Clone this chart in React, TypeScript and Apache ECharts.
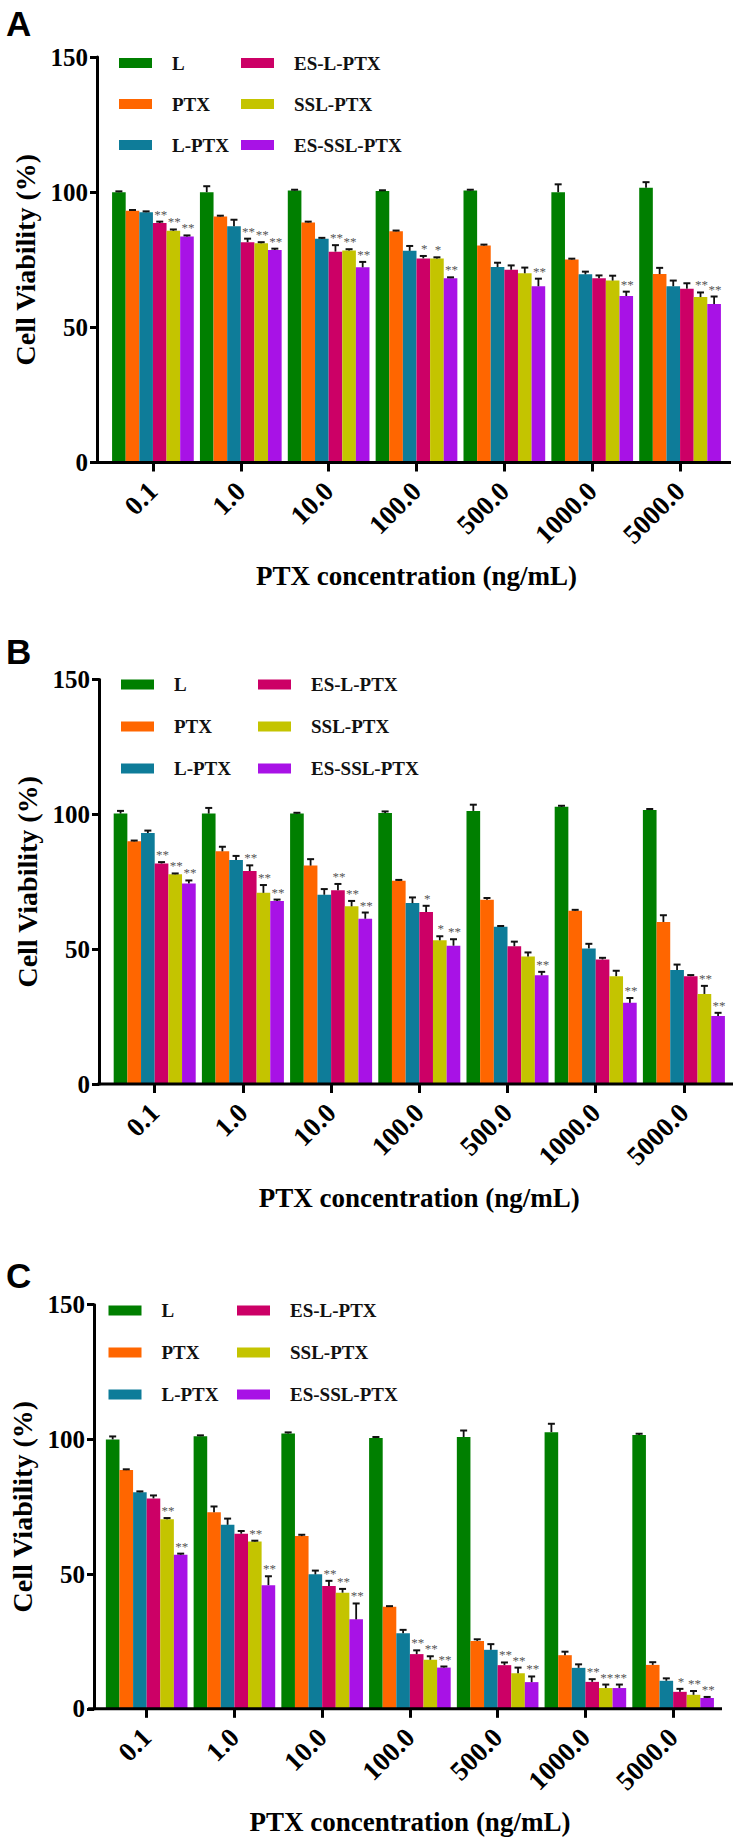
import React, { useEffect, useRef } from "react";
import * as echarts from "echarts";

// ---------- DATA ----------
const categories = ["0.1", "1.0", "10.0", "100.0", "500.0", "1000.0", "5000.0"];
const groups = ["L", "PTX", "L-PTX", "ES-L-PTX", "SSL-PTX", "ES-SSL-PTX"];
const yTicks = [0, 50, 100, 150];

// Panel A
const A_L = [100.0, 100.0, 100.6, 100.4, 100.6, 100.0, 101.6];
const A_L_err = [0.3, 2.2, 0.3, 0.3, 0.3, 2.9, 2.1];
const A_PTX = [93.1, 91.0, 88.8, 85.5, 80.3, 75.1, 69.7];
const A_PTX_err = [0.3, 0.3, 0.3, 0.3, 0.3, 0.3, 2.3];
const A_LPTX = [92.6, 87.4, 82.8, 78.3, 72.3, 69.6, 65.2];
const A_LPTX_err = [0.3, 2.4, 0.3, 1.8, 1.6, 1.0, 2.1];
const A_ESL = [88.6, 81.5, 78.0, 75.5, 71.3, 68.2, 64.3];
const A_ESL_err = [0.5, 1.3, 2.4, 0.9, 1.6, 1.0, 2.0];
const A_SSL = [85.7, 81.1, 78.4, 75.5, 70.0, 67.3, 61.2];
const A_SSL_err = [0.5, 0.4, 0.5, 0.4, 2.1, 1.8, 1.7];
const A_ESSSL = [83.6, 78.6, 72.2, 68.2, 65.2, 61.6, 58.6];
const A_ESSSL_err = [0.4, 0.5, 2.0, 0.3, 2.8, 1.6, 2.8];
const A_ESL_sig = ["**", "**", "**", "*", "", "", ""];
const A_SSL_sig = ["**", "**", "**", "*", "", "", "**"];
const A_ESSSL_sig = ["**", "**", "**", "**", "**", "**", "**"];

// Panel B
const B_L = [100.3, 100.3, 100.3, 100.5, 101.3, 102.8, 101.6];
const B_L_err = [1.0, 2.1, 0.3, 0.6, 2.3, 0.4, 0.4];
const B_PTX = [90.0, 86.3, 81.0, 75.4, 68.3, 64.3, 60.1];
const B_PTX_err = [0.3, 1.7, 2.4, 0.3, 0.7, 0.3, 2.5];
const B_LPTX = [93.1, 83.1, 70.2, 67.1, 58.3, 50.3, 42.3];
const B_LPTX_err = [0.9, 1.5, 2.1, 2.1, 0.3, 1.7, 2.0];
const B_ESL = [81.8, 79.0, 71.9, 63.8, 51.1, 46.2, 40.0];
const B_ESL_err = [0.5, 2.1, 2.3, 2.3, 1.7, 0.6, 0.4];
const B_SSL = [77.8, 70.9, 65.9, 53.3, 47.3, 40.0, 33.4];
const B_SSL_err = [0.3, 2.9, 2.0, 1.5, 1.5, 2.0, 3.0];
const B_ESSSL = [74.4, 67.9, 61.3, 51.3, 40.3, 30.1, 25.2];
const B_ESSSL_err = [1.1, 0.5, 2.3, 2.4, 1.3, 1.8, 1.2];
const B_ESL_sig = ["**", "**", "**", "*", "", "", ""];
const B_SSL_sig = ["**", "**", "**", "*", "", "", "**"];
const B_ESSSL_sig = ["**", "**", "**", "**", "**", "**", "**"];

// Panel C
const C_L = [100.0, 101.2, 102.2, 100.5, 100.9, 102.7, 101.6];
const C_L_err = [1.1, 0.3, 0.4, 0.4, 2.4, 3.1, 0.5];
const C_PTX = [88.6, 73.0, 64.1, 37.9, 25.2, 19.9, 16.3];
const C_PTX_err = [0.3, 2.1, 0.5, 0.2, 0.6, 1.3, 1.0];
const C_LPTX = [80.4, 68.3, 49.9, 28.0, 21.9, 15.2, 10.4];
const C_LPTX_err = [0.3, 2.3, 1.4, 1.3, 2.1, 1.3, 0.9];
const C_ESL = [78.1, 65.0, 45.6, 20.3, 16.2, 10.0, 6.3];
const C_ESL_err = [1.1, 1.0, 1.9, 1.4, 1.0, 1.0, 1.1];
const C_SSL = [70.4, 62.1, 43.1, 18.2, 13.2, 7.7, 5.2];
const C_SSL_err = [0.4, 0.3, 1.4, 1.3, 2.1, 1.3, 1.4];
const C_ESSSL = [57.2, 45.9, 33.2, 15.3, 9.9, 7.7, 4.0];
const C_ESSSL_err = [0.4, 3.3, 5.9, 0.4, 2.1, 1.3, 0.4];
const C_ESL_sig = ["", "", "**", "**", "**", "**", "*"];
const C_SSL_sig = ["**", "**", "**", "**", "**", "**", "**"];
const C_ESSSL_sig = ["**", "**", "**", "**", "**", "**", "**"];

const noSig = ["", "", "", "", "", "", ""];

const panels = [
  {
    label: "A",
    values: [A_L, A_PTX, A_LPTX, A_ESL, A_SSL, A_ESSSL],
    errs: [A_L_err, A_PTX_err, A_LPTX_err, A_ESL_err, A_SSL_err, A_ESSSL_err],
    sigs: [noSig, noSig, noSig, A_ESL_sig, A_SSL_sig, A_ESSSL_sig],
  },
  {
    label: "B",
    values: [B_L, B_PTX, B_LPTX, B_ESL, B_SSL, B_ESSSL],
    errs: [B_L_err, B_PTX_err, B_LPTX_err, B_ESL_err, B_SSL_err, B_ESSSL_err],
    sigs: [noSig, noSig, noSig, B_ESL_sig, B_SSL_sig, B_ESSSL_sig],
  },
  {
    label: "C",
    values: [C_L, C_PTX, C_LPTX, C_ESL, C_SSL, C_ESSSL],
    errs: [C_L_err, C_PTX_err, C_LPTX_err, C_ESL_err, C_SSL_err, C_ESSSL_err],
    sigs: [noSig, noSig, noSig, C_ESL_sig, C_SSL_sig, C_ESSSL_sig],
  },
];

// ---------- STYLE / LAYOUT ----------
const W = 735;
const H = 1844;
const colors = ["#007f00", "#ff6600", "#0e7c99", "#cc0066", "#c4c400", "#a812e6"];
const SERIF = "Liberation Serif";
const SANS = "Liberation Sans";
const CAT_GAP = 0.07;

const layouts = [
  { top: 57, y0: 462.5, left: 109, right: 724, axisX: 97, axisEnd: 731, legendTop: 53.6, legendCols: [119, 241], legendGap: 22, labelY: 6 },
  { top: 679.6, y0: 1084, left: 110.6, right: 728, axisX: 99, axisEnd: 733, legendTop: 675, legendCols: [121, 258], legendGap: 23, labelY: 634 },
  { top: 1304.7, y0: 1708.8, left: 98.4, right: 717, axisX: 89.6, axisEnd: 722, legendTop: 1301, legendCols: [108.5, 237], legendGap: 23, labelY: 1258 },
];

function buildOption() {
  const grid: any[] = [];
  const xAxis: any[] = [];
  const yAxis: any[] = [];
  const series: any[] = [];
  const legend: any[] = [];
  const graphic: any[] = [];

  panels.forEach((p, pi) => {
    const L = layouts[pi];
    grid.push({ left: L.left, width: L.right - L.left, top: L.top, height: L.y0 - L.top, containLabel: false });
    xAxis.push({
      type: "category",
      gridIndex: pi,
      data: categories,
      axisLine: { show: false },
      axisTick: { show: true, alignWithLabel: true, length: 9, lineStyle: { color: "#000", width: 3 } },
      axisLabel: { rotate: 45, margin: 24, fontFamily: SERIF, fontWeight: "bold", fontSize: 27, color: "#000" },
      name: "PTX concentration (ng/mL)",
      nameLocation: "middle",
      nameGap: 100,
      nameTextStyle: { fontFamily: SERIF, fontWeight: "bold", fontSize: 27, color: "#000" },
      splitLine: { show: false },
    });
    yAxis.push({
      type: "value",
      gridIndex: pi,
      min: 0,
      max: 150,
      interval: 50,
      offset: L.left - L.axisX,
      axisLine: { show: true, lineStyle: { color: "#000", width: 3 } },
      axisTick: { show: true, length: 7, lineStyle: { color: "#000", width: 3 } },
      axisLabel: { margin: 9, fontFamily: SERIF, fontWeight: "bold", fontSize: 25, color: "#000", customValues: yTicks },
      splitLine: { show: false },
      name: "Cell Viability (%)",
      nameLocation: "middle",
      nameGap: 58,
      nameTextStyle: { fontFamily: SERIF, fontWeight: "bold", fontSize: 28, color: "#000" },
    });

    groups.forEach((g, gi) => {
      series.push({
        type: "bar",
        name: g,
        xAxisIndex: pi,
        yAxisIndex: pi,
        data: p.values[gi],
        barGap: "0%",
        barCategoryGap: CAT_GAP * 100 + "%",
        itemStyle: { color: colors[gi] },
        z: 2,
      });
    });

    // error bars + significance marks
    const errData: any[] = [];
    const sigLookup: string[] = [];
    groups.forEach((g, gi) => {
      categories.forEach((c, ci) => {
        errData.push([ci, gi, p.values[gi][ci], p.errs[gi][ci]]);
        sigLookup.push(p.sigs[gi][ci]);
      });
    });
    series.push({
      type: "custom",
      xAxisIndex: pi,
      yAxisIndex: pi,
      data: errData,
      encode: { x: 0, y: 2 },
      clip: false,
      z: 5,
      renderItem: (params: any, api: any) => {
        const ci = api.value(0);
        const s = api.value(1);
        const v = api.value(2);
        const e = api.value(3);
        const band = api.size([1, 0])[0];
        const bw = (band * (1 - CAT_GAP)) / 6;
        const top = api.coord([ci, v + e]);
        const base = api.coord([ci, v]);
        const cx = top[0] + (s - 2.5) * bw;
        const children: any[] = [
          { type: "line", shape: { x1: cx, y1: base[1], x2: cx, y2: top[1] }, style: { stroke: "#111", lineWidth: 1.8 } },
          { type: "line", shape: { x1: cx - 3.5, y1: top[1], x2: cx + 3.5, y2: top[1] }, style: { stroke: "#111", lineWidth: 2 } },
        ];
        const sig = sigLookup[params.dataIndex];
        if (sig) {
          children.push({
            type: "text",
            style: {
              text: sig,
              x: cx + 1,
              y: top[1] - 1,
              align: "center",
              verticalAlign: "bottom",
              fill: "#555",
              fontSize: 13,
              fontFamily: SERIF,
            },
          });
        }
        return { type: "group", children };
      },
    });

    const legendBase = {
      orient: "vertical",
      top: L.legendTop,
      itemWidth: 33,
      itemHeight: 10,
      itemGap: L.legendGap,
      icon: "rect",
      padding: 0,
      selectedMode: false,
      textStyle: { fontFamily: SERIF, fontWeight: "bold", fontSize: 19, color: "#111", padding: [0, 0, 0, 15] },
    };
    legend.push({ ...legendBase, left: L.legendCols[0], data: groups.slice(0, 3) });
    legend.push({ ...legendBase, left: L.legendCols[1], data: groups.slice(3, 6) });

    graphic.push({
      type: "line",
      shape: { x1: L.axisX - 1.5, y1: L.y0, x2: L.axisEnd, y2: L.y0 },
      style: { stroke: "#000", lineWidth: 3 },
      z: 10,
    });
    graphic.push({
      type: "text",
      left: 6,
      top: L.labelY,
      style: { text: p.label, fontFamily: SANS, fontWeight: "bold", fontSize: 35, fill: "#000" },
    });
  });

  return { animation: false, backgroundColor: "#fff", grid, xAxis, yAxis, series, legend, graphic };
}

export default function App() {
  const ref = useRef<HTMLDivElement>(null);
  useEffect(() => {
    if (!ref.current) return;
    const chart = echarts.init(ref.current, null, { renderer: "svg", width: W, height: H });
    chart.setOption(buildOption() as any);
    return () => chart.dispose();
  }, []);
  return <div ref={ref} style={{ position: "absolute", left: 0, top: 0, width: W, height: H, background: "#fff" }} />;
}
